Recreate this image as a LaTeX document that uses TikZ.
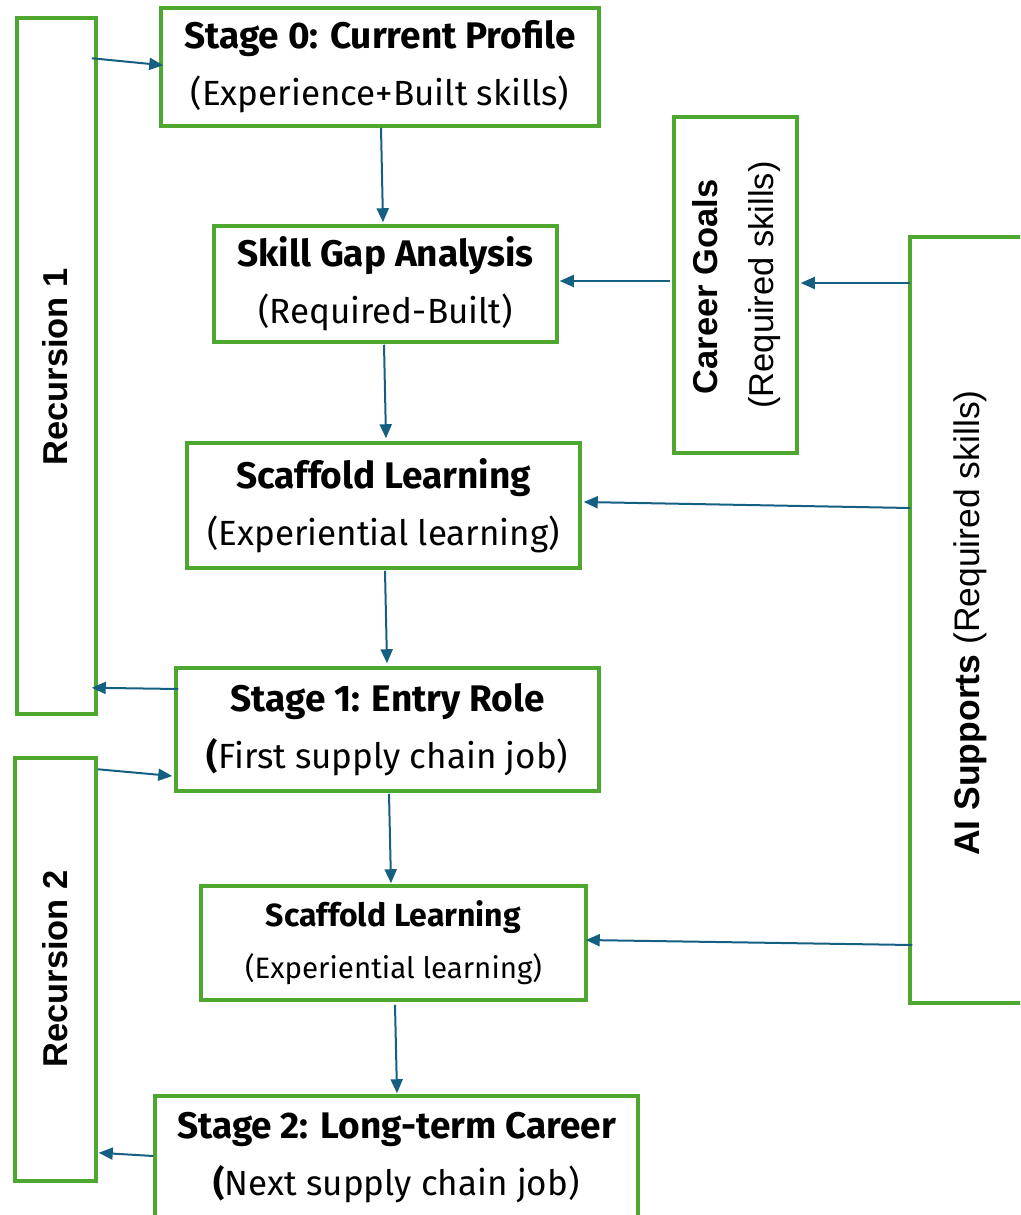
\documentclass[tikz,border=0pt]{standalone}
\usepackage{fontspec}
\setmainfont{Fira Sans}
\newfontfamily\arialf{Liberation Sans}
\usetikzlibrary{arrows.meta}
\definecolor{boxgreen}{HTML}{4EA72E}
\definecolor{arrowblue}{HTML}{156082}
\newcommand{\bigb}[1]{{\fontsize{37}{57}\selectfont\bfseries #1}}
\newcommand{\smallb}[1]{{\fontsize{32}{52}\selectfont\bfseries #1}}
\tikzset{
  gbox/.style={draw=boxgreen, line width=3.5pt, rectangle, inner sep=0pt, align=center, fill=white},
  mainfont/.style={font=\fontsize{35}{57}\selectfont},
  smallfont/.style={font=\fontsize{29.5}{52}\selectfont},
  rotfont/.style={font=\arialf\fontsize{34.5}{40}\selectfont, rotate=90},
  arr/.style={draw=arrowblue, line width=2pt, -{Triangle[length=14pt,width=12pt]}},
}
\begin{document}
\begin{tikzpicture}[x=1pt,y=-1pt]
\useasboundingbox (0,0) rectangle (1020,1215);
\clip (0,0) rectangle (1020,1215);
% boxes
\node[gbox, minimum width=79pt, minimum height=696pt] (r1) at (56.5,366) {};
\node[rotfont] (r1t) at (55,367) {\bfseries Recursion 1};
\node[gbox, minimum width=81pt, minimum height=423pt] (r2) at (55.5,969.5) {};
\node[rotfont] (r2t) at (55,969) {\bfseries Recursion 2};

\node[gbox, mainfont, minimum width=438pt, minimum height=118pt] (s0) at (380,67)
  {\bigb{Stage 0: Current Profile}\\(Experience+Built skills)};
\node[gbox, mainfont, minimum width=343pt, minimum height=116pt] (sg) at (385.5,284)
  {\bigb{Skill Gap Analysis}\\(Required-Built)};
\node[gbox, minimum width=123pt, minimum height=336pt] (cg) at (735.5,285) {};
\node[rotfont] (cgt1) at (705,287) {\bfseries Career Goals};
\node[rotfont] (cgt2) at (765,285) {(Required skills)};

\node[gbox, minimum width=150pt, minimum height=766pt] (ai) at (985,620) {};
\node[rotfont, font=\arialf\fontsize{35.5}{40}\selectfont] (ait) at (970,623) {\textbf{AI Supports} (Required skills)};

\node[gbox, mainfont, minimum width=393pt, minimum height=125pt] (sc1) at (383.5,505.5)
  {\bigb{Scaffold Learning}\\(Experiential learning)};
\node[gbox, mainfont, minimum width=423pt, minimum height=123pt] (s1) at (387.5,729.5)
  {\bigb{Stage 1: Entry Role}\\\textbf{(}First supply chain job)};
\node[gbox, smallfont, minimum width=385pt, minimum height=114pt] (sc2) at (393.5,943)
  {\smallb{Scaffold Learning}\\(Experiential learning)};
\node[gbox, minimum width=483pt, minimum height=134pt] (s2) at (396.5,1163) {};
\node[mainfont, align=center] (s2t) at (396.5,1158)
  {\bigb{Stage 2: Long-term Career}\\\textbf{(}Next supply chain job)};

% arrows
\draw[arr] ([shift={(-6,42)}]r1.north east) -- ([shift={(4,59)}]s0.north west);
\draw[arr] ([shift={(1,0)}]s0.south) -- ([shift={(-2.5,-2)}]sg.north);
\draw[arr] ([shift={(-2,-4)}]cg.west) -- ([shift={(1,-3)}]sg.east);
\draw[arr] ([shift={(2,-337)}]ai.west) -- ([shift={(2,-2)}]cg.east);
\draw[arr] ([shift={(-1.5,1)}]sg.south) -- ([shift={(2.5,-3)}]sc1.north);
\draw[arr] ([shift={(2,-112)}]ai.west) -- ([shift={(2,-3.5)}]sc1.east);
\draw[arr] ([shift={(1.5,1)}]sc1.south) -- ([shift={(-0.5,-3)}]s1.north);
\draw[arr] ([shift={(4,-40.5)}]s1.west) -- ([shift={(-6,-28)}]r1.south east);
\draw[arr] ([shift={(0,13)}]r2.north east) -- ([shift={(-2,46.5)}]s1.west);
\draw[arr] ([shift={(1.5,1)}]s1.south) -- ([shift={(-2.5,-1)}]sc2.north);
\draw[arr] ([shift={(4,325)}]ai.west) -- ([shift={(-2,-3)}]sc2.east);
\draw[arr] ([shift={(1.5,3)}]sc2.south) -- ([shift={(0.5,-1)}]s2.north);
\draw[arr] ([shift={(0,-7)}]s2.west) -- ([shift={(1,-30)}]r2.south east);
\end{tikzpicture}
\end{document}
